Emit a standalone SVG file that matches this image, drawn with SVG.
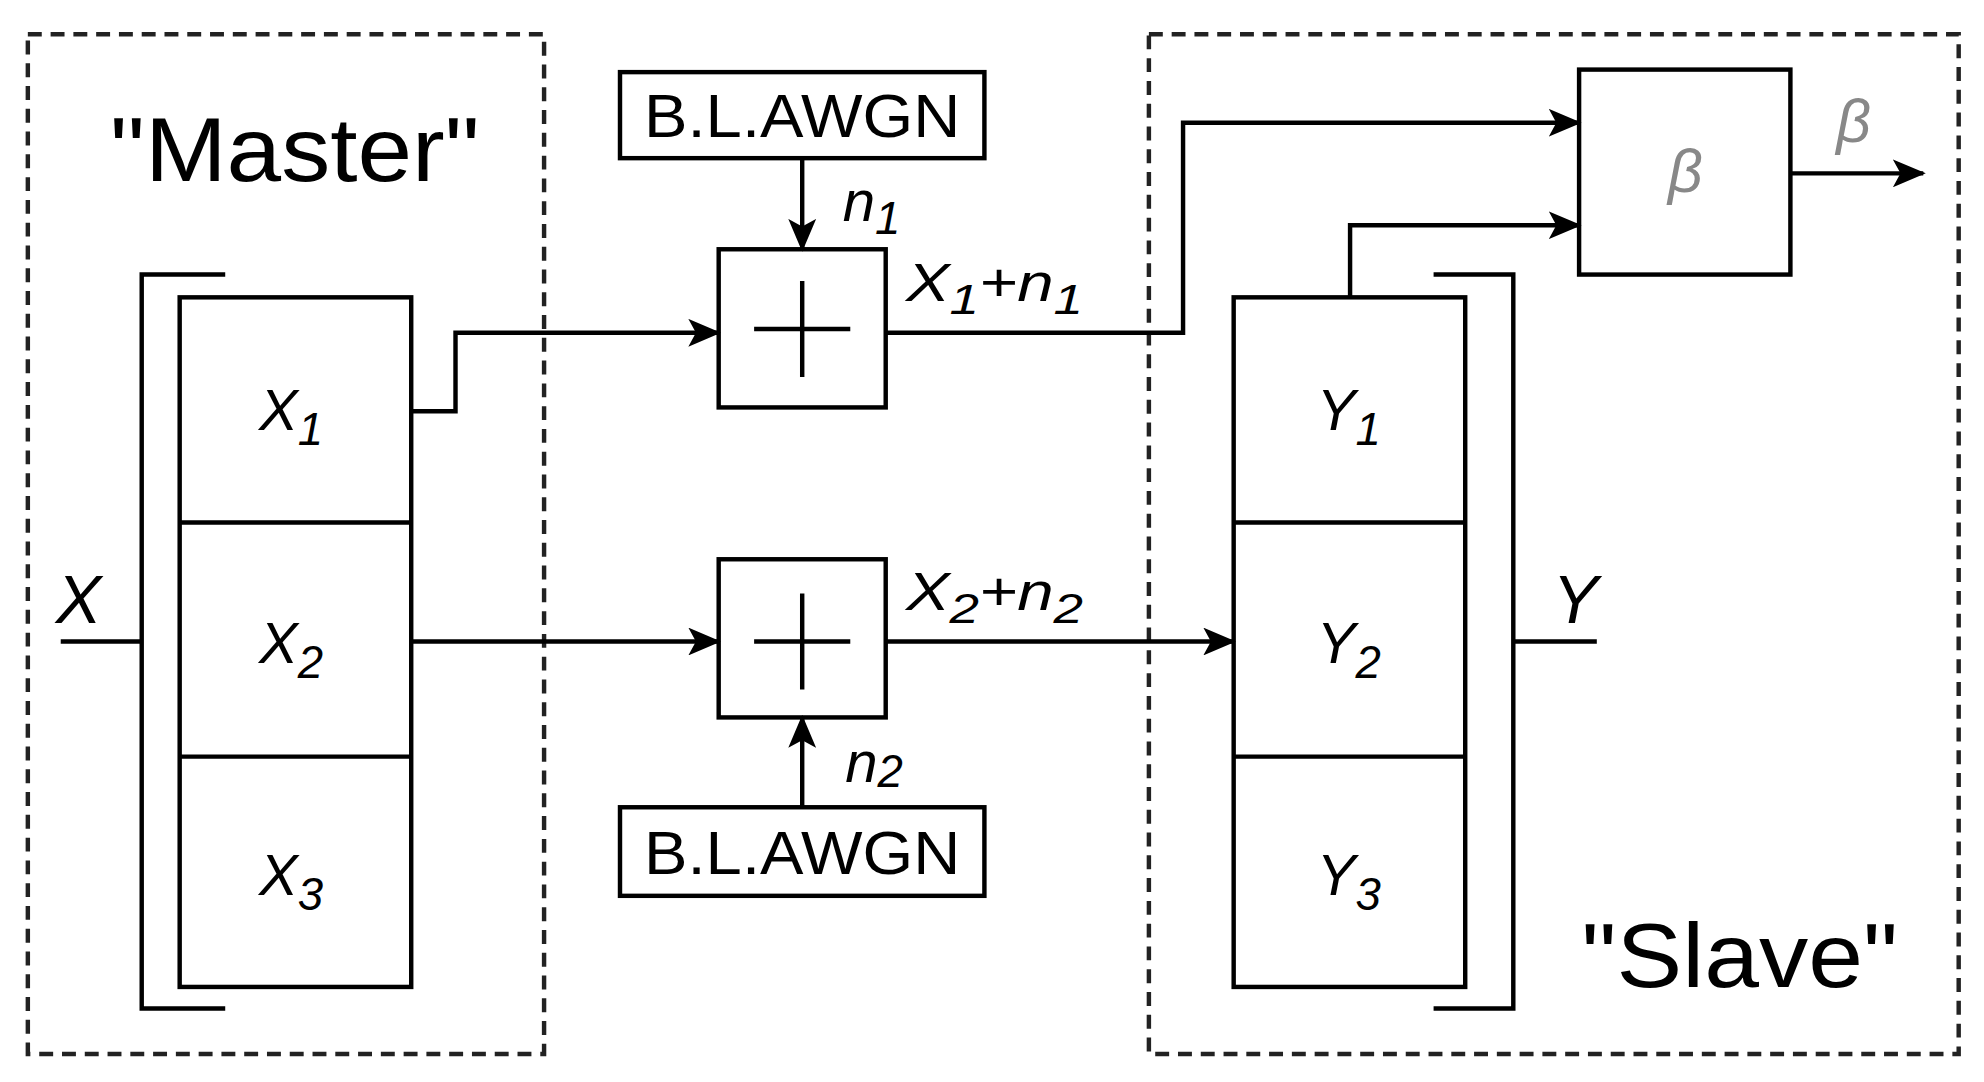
<svg xmlns="http://www.w3.org/2000/svg" width="1984" height="1082" viewBox="0 0 1984 1082">
<defs>
<marker id="ah" markerWidth="26" markerHeight="22" refX="24" refY="11" orient="auto" markerUnits="userSpaceOnUse" viewBox="0 0 26 22"><path d="M0,0 L26,11 L0,22 L6,11 z" fill="#000"/></marker>
<style>
.b{fill:#fff;stroke:#000;stroke-width:3.5}
.d{fill:none;stroke:#222;stroke-width:3.5;stroke-dasharray:11 7}
.l{fill:none;stroke:#000;stroke-width:3.5}
.t{font-family:"Liberation Sans",Arial,sans-serif;fill:#000}
.i{font-family:"Liberation Sans",Arial,sans-serif;font-style:italic;fill:#000}
</style>
</defs>
<rect width="1984" height="1082" fill="#fff"/>
<g transform="scale(1.2653)">
<g id="master"><rect class="d" x="22" y="27" width="408" height="806"/><text class="t" x="233" y="143" font-size="72" text-anchor="middle" textLength="292" lengthAdjust="spacingAndGlyphs">"Master"</text></g>
<g id="slave"><rect class="d" x="908" y="27" width="640" height="806"/><text class="t" x="1375" y="780" font-size="72" text-anchor="middle" textLength="250" lengthAdjust="spacingAndGlyphs">"Slave"</text></g>
<g id="xbracket"><path class="l" d="M178,217 H112 V797 H178"/><path class="l" d="M48,507 H112"/><text class="i" x="62" y="492" font-size="54" text-anchor="middle">X</text></g>
<g id="xbox"><rect class="b" x="142" y="235" width="183" height="545"/><path class="l" d="M142,413 H325 M142,598 H325"/>
<text class="i" x="230" y="340" font-size="46" text-anchor="middle">X<tspan font-size="36" dy="12">1</tspan></text>
<text class="i" x="230" y="524" font-size="46" text-anchor="middle">X<tspan font-size="36" dy="12">2</tspan></text>
<text class="i" x="230" y="707" font-size="46" text-anchor="middle">X<tspan font-size="36" dy="12">3</tspan></text></g>
<g id="ybox"><rect class="b" x="975" y="235" width="183" height="545"/><path class="l" d="M975,413 H1158 M975,598 H1158"/>
<text class="i" x="1066" y="340" font-size="46" text-anchor="middle">Y<tspan font-size="36" dy="12">1</tspan></text>
<text class="i" x="1066" y="524" font-size="46" text-anchor="middle">Y<tspan font-size="36" dy="12">2</tspan></text>
<text class="i" x="1066" y="707" font-size="46" text-anchor="middle">Y<tspan font-size="36" dy="12">3</tspan></text></g>
<g id="ybracket"><path class="l" d="M1133,217 H1196 V797 H1133"/><path class="l" d="M1196,507 H1262"/><text class="i" x="1245" y="492" font-size="54" text-anchor="middle">Y</text></g>
<g id="adder1"><rect class="b" x="568" y="197" width="132" height="125"/><path class="l" d="M596,260 H672 M634,222 V298"/></g>
<g id="adder2"><rect class="b" x="568" y="442" width="132" height="125"/><path class="l" d="M596,507 H672 M634,469 V545"/></g>
<g id="awgn1"><rect class="b" x="490" y="57" width="288" height="68"/><text class="t" x="634" y="108" font-size="48" text-anchor="middle" textLength="250" lengthAdjust="spacingAndGlyphs">B.L.AWGN</text></g>
<g id="awgn2"><rect class="b" x="490" y="638" width="288" height="70"/><text class="t" x="634" y="691" font-size="48" text-anchor="middle" textLength="250" lengthAdjust="spacingAndGlyphs">B.L.AWGN</text></g>
<g id="beta"><rect class="b" x="1248" y="55" width="167" height="162"/><text class="i" x="1332" y="152" font-size="48" text-anchor="middle" style="fill:#888">β</text></g>
<g id="connectors">
<path class="l" d="M325,325 H360 V263 H568" marker-end="url(#ah)"/>
<path class="l" d="M325,507 H568" marker-end="url(#ah)"/>
<path class="l" d="M634,125 V197" marker-end="url(#ah)"/>
<path class="l" d="M634,638 V567" marker-end="url(#ah)"/>
<path class="l" d="M700,263 H935 V97 H1248" marker-end="url(#ah)"/>
<path class="l" d="M700,507 H975" marker-end="url(#ah)"/>
<path class="l" d="M1067,235 V178 H1248" marker-end="url(#ah)"/>
<path class="l" d="M1415,137 H1520" marker-end="url(#ah)"/>
</g>
<g id="labels">
<text class="i" x="666" y="175" font-size="46">n<tspan font-size="36" dy="10">1</tspan></text>
<text class="i" x="668" y="618" font-size="46">n<tspan font-size="36" dy="4">2</tspan></text>
<text class="i" x="716" y="238" font-size="42" textLength="140" lengthAdjust="spacingAndGlyphs">X<tspan font-size="34" dy="10">1</tspan><tspan dy="-10">+n</tspan><tspan font-size="34" dy="10">1</tspan></text>
<text class="i" x="716" y="482" font-size="42" textLength="140" lengthAdjust="spacingAndGlyphs">X<tspan font-size="34" dy="10">2</tspan><tspan dy="-10">+n</tspan><tspan font-size="34" dy="10">2</tspan></text>
<text class="i" x="1465" y="112" font-size="48" text-anchor="middle" style="fill:#888">β</text>
</g>
</g>
</svg>
